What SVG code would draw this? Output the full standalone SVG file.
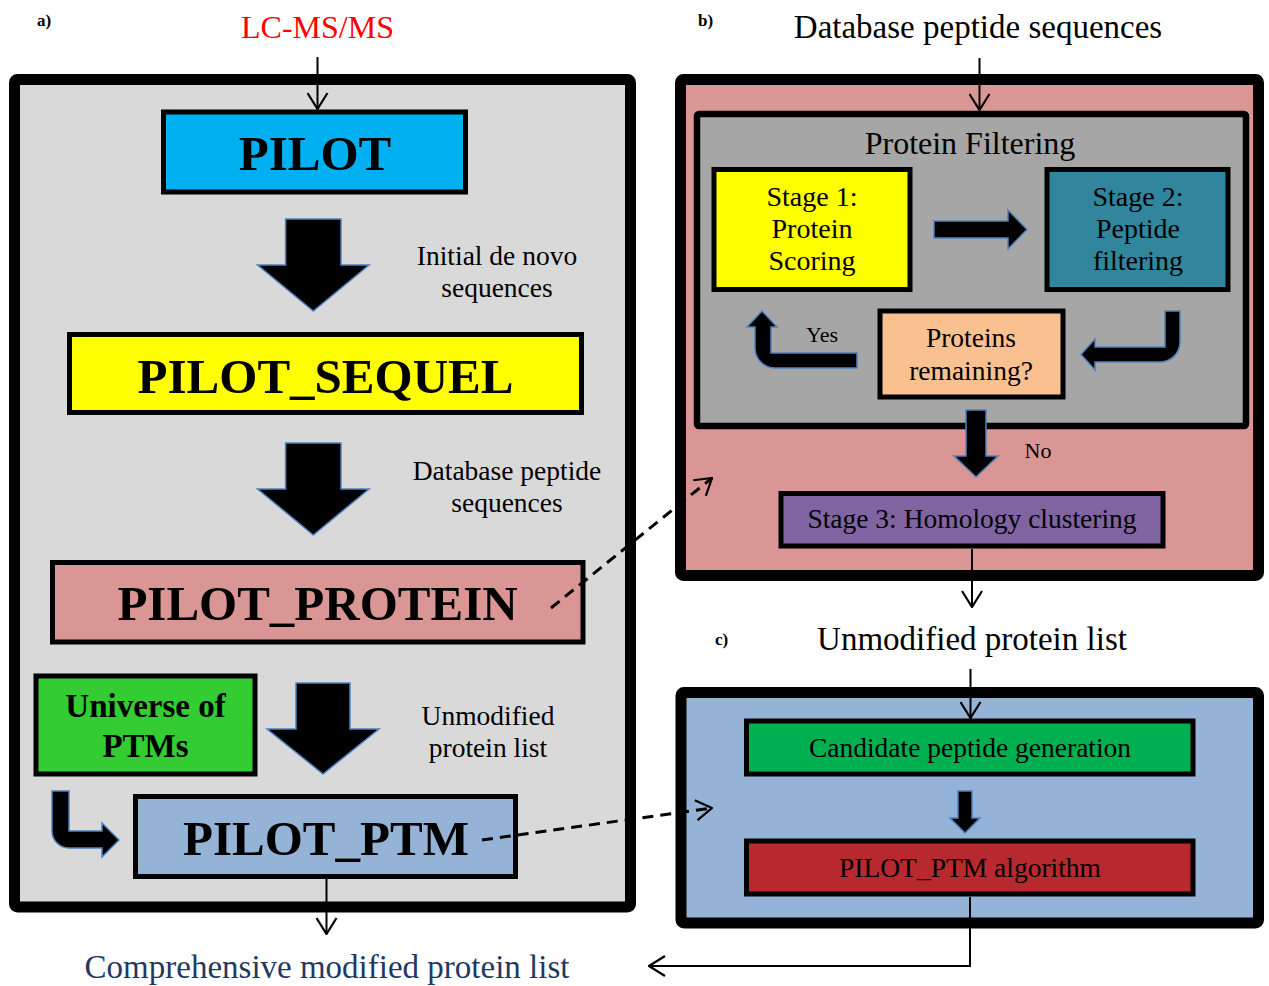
<svg xmlns="http://www.w3.org/2000/svg" width="1269" height="986" viewBox="0 0 1269 986">
<defs>
<style>
text{font-family:"Liberation Serif","Times New Roman",serif;fill:#000}
.big{font-size:49px;font-weight:bold;text-anchor:middle}
.lab{font-size:27.5px;text-anchor:middle}
.ttl{font-size:33px;text-anchor:middle}
.tag{font-size:17px;font-weight:bold}
.panel{stroke:#000;stroke-width:11}
.box{stroke:#000;stroke-width:5}
.fat{fill:#000;stroke:#4F81BD;stroke-width:1.5;stroke-linejoin:miter}
.thin{fill:none;stroke:#000;stroke-width:2}
.dash{fill:none;stroke:#000;stroke-width:3;stroke-dasharray:11 7}
</style>
<marker id="ah" viewBox="0 0 18 22" refX="17" refY="11" markerWidth="18" markerHeight="22" markerUnits="userSpaceOnUse" orient="auto">
<path d="M1,1 L17,11 L1,21" fill="none" stroke="#000" stroke-width="2.2"/>
</marker>
</defs>

<!-- Panel a -->
<g id="panel-a">
<rect class="panel" x="14.5" y="79.5" width="616" height="827.5" rx="3" fill="#D9D9D9"/>
<text class="tag" x="37" y="26">a)</text>
<text x="317.5" y="38" font-size="32" fill="#FF0000" style="fill:#FF0000" text-anchor="middle">LC-MS/MS</text>
</g>
<g id="pilot">
<rect class="box" x="163.5" y="112" width="302" height="80" fill="#00B0F0"/>
<text class="big" x="315" y="170">PILOT</text>
</g>
<g id="pilot-sequel">
<rect class="box" x="69.5" y="334.5" width="512" height="78" fill="#FFFF00"/>
<text class="big" x="325.5" y="393">PILOT_SEQUEL</text>
</g>
<g id="pilot-protein">
<rect class="box" x="52.5" y="562.5" width="530.5" height="79.5" fill="#DA9694"/>
<text class="big" x="317.5" y="620">PILOT_PROTEIN</text>
</g>
<g id="universe">
<rect class="box" x="36" y="676" width="219" height="98" fill="#33CC33"/>
<text x="145.5" y="717" font-size="33" font-weight="bold" text-anchor="middle">Universe of</text>
<text x="145.5" y="757" font-size="33" font-weight="bold" text-anchor="middle">PTMs</text>
</g>
<g id="pilot-ptm">
<rect class="box" x="135.5" y="796.5" width="380" height="80" fill="#95B3D7"/>
<text class="big" x="326" y="855">PILOT_PTM</text>
</g>
<g id="labels-a">
<text class="lab" x="497" y="265">Initial de novo</text>
<text class="lab" x="497" y="297">sequences</text>
<text class="lab" x="507" y="480">Database peptide</text>
<text class="lab" x="507" y="512">sequences</text>
<text class="lab" x="488" y="725">Unmodified</text>
<text class="lab" x="488" y="757">protein list</text>
<text x="327" y="978" font-size="33" text-anchor="middle" style="fill:#1F3864">Comprehensive modified protein list</text>
</g>

<!-- Panel b -->
<g id="panel-b">
<rect class="panel" x="680.5" y="79.5" width="578" height="496" rx="3" fill="#DA9694"/>
<text class="tag" x="698" y="26">b)</text>
<text class="ttl" x="978" y="38">Database peptide sequences</text>
</g>
<g id="protein-filtering">
<rect x="697" y="114" width="549" height="312" fill="#A6A6A6" stroke="#000" stroke-width="6.5" rx="2"/>
<text x="970" y="154" font-size="32" text-anchor="middle">Protein Filtering</text>
</g>
<g id="stage1">
<rect class="box" x="714" y="169.5" width="196" height="120" fill="#FFFF00"/>
<text x="812" y="206" font-size="28" text-anchor="middle">Stage 1:</text>
<text x="812" y="238" font-size="28" text-anchor="middle">Protein</text>
<text x="812" y="270" font-size="28" text-anchor="middle">Scoring</text>
</g>
<g id="stage2">
<rect class="box" x="1047" y="169.5" width="181" height="120" fill="#31859C"/>
<text x="1138" y="206" font-size="28" text-anchor="middle">Stage 2:</text>
<text x="1138" y="238" font-size="28" text-anchor="middle">Peptide</text>
<text x="1138" y="270" font-size="28" text-anchor="middle">filtering</text>
</g>
<g id="remaining">
<rect class="box" x="880" y="311" width="183" height="86" fill="#FAC090"/>
<text x="971" y="347" font-size="27.5" text-anchor="middle">Proteins</text>
<text x="971" y="380" font-size="27.5" text-anchor="middle">remaining?</text>
</g>
<g id="stage3">
<rect class="box" x="781" y="493.5" width="382" height="52.5" fill="#8064A2"/>
<text x="972" y="528" font-size="27.5" text-anchor="middle">Stage 3: Homology clustering</text>
</g>
<g id="labels-b">
<text x="822" y="342" font-size="22" text-anchor="middle">Yes</text>
<text x="1038" y="458" font-size="22" text-anchor="middle">No</text>
</g>

<!-- Panel c -->
<g id="panel-c">
<text class="tag" x="715" y="645">c)</text>
<text class="ttl" x="972" y="650">Unmodified protein list</text>
<rect class="panel" x="681" y="692.5" width="577.5" height="230.5" rx="3" fill="#95B3D7"/>
</g>
<g id="candidate">
<rect class="box" x="746.5" y="721" width="446.5" height="53" fill="#00B050"/>
<text x="970" y="757" font-size="27.5" text-anchor="middle">Candidate peptide generation</text>
</g>
<g id="ptm-algorithm">
<rect class="box" x="746.5" y="841" width="446.5" height="53" fill="#B8282F"/>
<text x="970" y="877" font-size="27.5" text-anchor="middle">PILOT_PTM algorithm</text>
</g>

<!-- Connectors -->
<g id="connectors">
<path class="fat" d="M285.6,219 H341 V265 H369 L313.3,311 L257.6,265 H285.6 Z"/>
<path class="fat" d="M285.6,443 H341 V489 H369 L313.3,535 L257.6,489 H285.6 Z"/>
<path class="fat" d="M296,683 H350 V729 H379 L323,774 L267,729 H296 Z"/>
<path class="fat" d="M52,791 H69 V831 H102 V823 L119,840 L102,857 V848 H69 A17,17 0 0 1 52,831 Z"/>
<path class="fat" d="M934,221 H1008 V210 L1027,229.5 L1008,249 V238 H934 Z"/>
<path class="fat" d="M1165,311 H1180 V342 A20,20 0 0 1 1160,362 H1095 V370 L1081,354.5 L1095,339 V347 H1165 Z"/>
<path class="fat" d="M857,353 V368 H775 A20,20 0 0 1 755,348 V327 H747 L762,311 L777,327 H771 V353 Z"/>
<path class="fat" d="M966,410 H986 V456 H998 L976,477 L954,456 H966 Z"/>
<path class="fat" d="M958,791 H972 V818 H980 L965,833 L950,818 H958 Z"/>
<line class="thin" x1="317.5" y1="57" x2="317.5" y2="109" marker-end="url(#ah)"/>
<line class="thin" x1="979.5" y1="58" x2="979.5" y2="110" marker-end="url(#ah)"/>
<line class="thin" x1="972" y1="549" x2="972" y2="607" marker-end="url(#ah)"/>
<line class="thin" x1="970.5" y1="669" x2="970.5" y2="718" marker-end="url(#ah)"/>
<line class="thin" x1="326.5" y1="879" x2="326.5" y2="934" marker-end="url(#ah)"/>
<polyline class="thin" points="970,897 970,966 649,966" marker-end="url(#ah)"/>
<line class="dash" x1="551" y1="608" x2="712" y2="478" marker-end="url(#ah)"/>
<line class="dash" x1="482" y1="840" x2="712" y2="808" marker-end="url(#ah)"/>
</g>
</svg>
